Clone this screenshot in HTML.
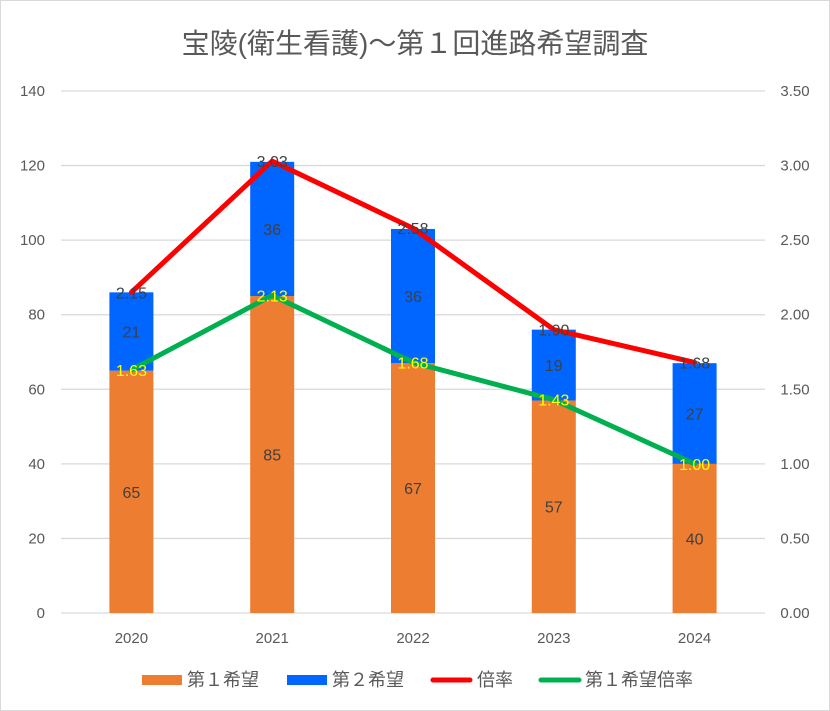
<!DOCTYPE html>
<html><head><meta charset="utf-8"><style>
html,body{margin:0;padding:0;background:#fff}
svg{display:block;font-family:"Liberation Sans","Noto Sans CJK JP",sans-serif}
</style></head><body>
<svg id="chart" width="830" height="711">
<rect x="0.5" y="0.5" width="829" height="710" fill="#fff" stroke="#d9d9d9"/>
<text x="415" y="53" text-anchor="middle" font-size="28" fill="#595959">宝陵(衛生看護)～第１回進路希望調査</text>
<g id="grid"></g><g id="bars"></g><g id="lines"></g><g id="labels"></g>
<g>
<rect x="142" y="675" width="40" height="10" fill="#ED7D31"/>
<text x="187" y="686" font-size="18" fill="#595959">第１希望</text>
<rect x="287" y="675" width="40" height="10" fill="#0066FF"/>
<text x="332" y="686" font-size="18" fill="#595959">第２希望</text>
<line x1="433" y1="680" x2="470" y2="680" stroke="#FF0000" stroke-width="5" stroke-linecap="round"/>
<text x="477" y="686" font-size="18" fill="#595959">倍率</text>
<line x1="541" y1="680" x2="579" y2="680" stroke="#00B050" stroke-width="5" stroke-linecap="round"/>
<text x="585" y="686" font-size="18" fill="#595959">第１希望倍率</text>
</g>
</svg>
<script>
const categories=["2020","2021","2022","2023","2024"];
const firstChoice=[65,85,67,57,40];
const secondChoice=[21,36,36,19,27];
const ratio=[2.15,3.03,2.58,1.90,1.68];
const firstRatio=[1.63,2.13,1.68,1.43,1.00];
const leftTicks=[0,20,40,60,80,100,120,140];
const rightTicks=["0.00","0.50","1.00","1.50","2.00","2.50","3.00","3.50"];
const NS="http://www.w3.org/2000/svg";
const X0=61,X1=765,Y0=613,Y1=91;
const yL=v=>Y0-(v/140)*(Y0-Y1);
const yR=v=>Y0-(v/3.5)*(Y0-Y1);
const step=(X1-X0)/categories.length;
const xC=i=>X0+step*(i+0.5);
const BW=44;
function mk(tag,attrs,parent,text){const e=document.createElementNS(NS,tag);for(const k in attrs)e.setAttribute(k,attrs[k]);if(text!==undefined)e.textContent=text;parent.appendChild(e);return e;}
const grid=document.getElementById('grid');
leftTicks.forEach((t,i)=>{
  const l=mk('line',{x1:X0,x2:X1,y1:yL(t),y2:yL(t),stroke:'#d9d9d9','stroke-width':1.3},grid);
  
  
  const a=mk('text',{x:45,y:yL(t)+5,'text-anchor':'end','font-size':15,fill:'#595959'},grid,String(t));
  
  
  const b=mk('text',{x:795,y:yR(+rightTicks[i])+5,'text-anchor':'middle','font-size':15,fill:'#595959'},grid,rightTicks[i]);
  
  
});
const bars=document.getElementById('bars'),labels=document.getElementById('labels'),lines=document.getElementById('lines');
categories.forEach((c,i)=>{
  const x=xC(i)-BW/2;
  const r1=mk('rect',{x:x,y:yL(firstChoice[i]),width:BW,height:Y0-yL(firstChoice[i]),fill:'#ED7D31'},bars);
  
  
  const top=firstChoice[i]+secondChoice[i];
  const r2=mk('rect',{x:x,y:yL(top),width:BW,height:yL(firstChoice[i])-yL(top),fill:'#0066FF'},bars);
  
  
  const t=mk('text',{x:xC(i),y:Y0+30,'text-anchor':'middle','font-size':15,fill:'#595959'},grid,c);
  
  
  const l1=mk('text',{x:xC(i),y:yL(firstChoice[i]/2)+6,'text-anchor':'middle','font-size':16,fill:'#404040'},labels,String(firstChoice[i]));
  
  
  const l2=mk('text',{x:xC(i),y:yL(firstChoice[i]+secondChoice[i]/2)+6,'text-anchor':'middle','font-size':16,fill:'#404040'},labels,String(secondChoice[i]));
  
  
});
function series(arr,color,name,tcolor){
  const pts=arr.map((v,i)=>xC(i)+','+yR(v)).join(' ');
  const p=mk('polyline',{points:pts,fill:'none',stroke:color,'stroke-width':5,'stroke-linejoin':'round','stroke-linecap':'round'},lines);
  
  
  arr.forEach((v,i)=>{
    const t=mk('text',{x:xC(i),y:yR(v)+6,'text-anchor':'middle','font-size':16,fill:tcolor},labels,v.toFixed(2));
    
    
  });
}
series(ratio,'#FF0000','ratio','#404040');
series(firstRatio,'#00B050','first-ratio','#FFFF00');
</script>
</body></html>
